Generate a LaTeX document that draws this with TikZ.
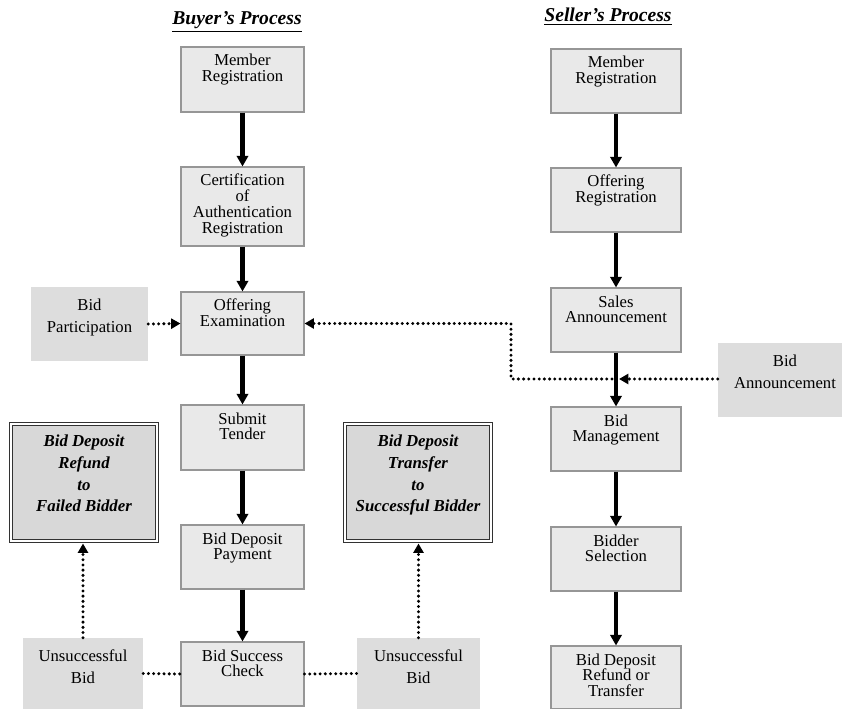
\documentclass[tikz,border=0pt]{standalone}
\usepackage{fontspec}
\setmainfont{Liberation Serif}
\usetikzlibrary{arrows.meta}
\definecolor{mainfill}{RGB}{233,233,233}
\definecolor{mainline}{RGB}{150,150,150}
\definecolor{sidefill}{RGB}{221,221,221}
\definecolor{dblfill}{RGB}{216,216,216}
\definecolor{dblline}{RGB}{50,50,50}
\newcommand\boxtxt[4]{\parbox[c][#2][t]{#1}{\centering\rule{0pt}{#3}#4\par}}
\begin{document}
\begin{tikzpicture}[x=0.75pt,y=-0.75pt,
  mainbox/.style={draw=mainline, fill=mainfill, line width=0.8pt, inner sep=0pt,
    font=\fontsize{12.5}{11.8}\selectfont},
  sidebox/.style={fill=sidefill, inner sep=0pt, font=\fontsize{12.5}{16.5}\selectfont},
  dblbox/.style={draw=dblline, line width=0.75pt, double=white, double distance=1.8pt,
    fill=dblfill, inner sep=0pt, font=\fontsize{12.6}{16.3}\selectfont\bfseries\itshape},
  flow/.style={line width=3.5pt, -{Triangle[width=8.5pt,length=8pt]}},
  dotline/.style={line width=2.5pt, line cap=round, dash pattern=on 0pt off 3.9pt},
  dotarrow/.style={dotline, -{Triangle[width=7.5pt,length=7pt]}},
  title/.style={font=\fontsize{14.7}{17}\selectfont\bfseries\itshape, anchor=base, inner sep=0pt}
]
\useasboundingbox (0,0) rectangle (842,709);
% titles
\node[title] (tb) at (237,25) {\underline{Buyer’s Process}};
\node[title] (ts) at (608,22) {\underline{Seller’s Process}};
% buyer column
\node[mainbox] (bmr) at (242.5,79.5) {\boxtxt{92.25pt}{48.75pt}{14.25pt}{Member\\Registration}};
\node[mainbox] (bca) at (242.5,206.5) {\boxtxt{92.25pt}{59.25pt}{14.25pt}{Certification\\of\\Authentication\\Registration}};
\node[mainbox] (boe) at (242.5,323.5) {\boxtxt{92.25pt}{47.25pt}{14.25pt}{Offering\\Examination}};
\node[mainbox] (bst) at (242.5,437.5) {\boxtxt{92.25pt}{48.75pt}{14.25pt}{Submit\\Tender}};
\node[mainbox] (bdp) at (242.5,557) {\boxtxt{92.25pt}{48pt}{14.25pt}{Bid Deposit\\Payment}};
\node[mainbox] (bsc) at (242.5,674) {\boxtxt{92.25pt}{48pt}{14.25pt}{Bid Success\\Check}};
% seller column
\node[mainbox] (smr) at (616,81) {\boxtxt{97.5pt}{48pt}{14.25pt}{Member\\Registration}};
\node[mainbox] (sor) at (616,200) {\boxtxt{97.5pt}{48pt}{14.25pt}{Offering\\Registration}};
\node[mainbox] (ssa) at (616,320) {\boxtxt{97.5pt}{48pt}{14.25pt}{Sales\\Announcement}};
\node[mainbox] (sbm) at (616,439) {\boxtxt{97.5pt}{48pt}{14.25pt}{Bid\\Management}};
\node[mainbox] (sbs) at (616,559) {\boxtxt{97.5pt}{48pt}{14.25pt}{Bidder\\Selection}};
\node[mainbox] (sbr) at (616,677.5) {\boxtxt{97.5pt}{47.25pt}{14.25pt}{Bid Deposit\\Refund or\\Transfer}};
% side boxes
\node[sidebox] (bpa) at (89.5,324) {\boxtxt{87.75pt}{55.5pt}{17.6pt}{Bid\\Participation}};
\node[sidebox] (ban) at (785,380) {\boxtxt{100.5pt}{55.5pt}{17.6pt}{Bid\\Announcement}};
\node[sidebox] (ubl) at (83,673.5) {\boxtxt{90pt}{53.25pt}{17.6pt}{Unsuccessful\\Bid}};
\node[sidebox] (ubr) at (418.5,673.5) {\boxtxt{92.25pt}{53.25pt}{17.6pt}{Unsuccessful\\Bid}};
% double boxes
\node[dblbox] (dbl) at (84,482.5) {\boxtxt{109.5pt}{87.75pt}{17pt}{Bid Deposit\\Refund\\to\\Failed Bidder}};
\node[dblbox] (dbr) at (418,482.5) {\boxtxt{109.5pt}{87.75pt}{17pt}{Bid Deposit\\Transfer\\to\\Successful Bidder}};
% solid flows
\draw[flow] (bmr) -- (bca);
\draw[flow] (bca) -- (boe);
\draw[flow] (boe) -- (bst);
\draw[flow] (bst) -- (bdp);
\draw[flow] (bdp) -- (bsc);
\draw[flow] (smr) -- (sor);
\draw[flow] (sor) -- (ssa);
\draw[flow] (ssa) -- (sbm);
\draw[flow] (sbm) -- (sbs);
\draw[flow] (sbs) -- (sbr);
% dotted connectors
\draw[dotarrow] (bpa.east) -- (boe.west);
\coordinate (J) at (619,379);
\coordinate (K) at (612,379);
\coordinate (L) at (511,379);
\draw[dotarrow] (ban.west |- J) -- (J);
\draw[dotarrow] (K) -- (L) |- (boe.east);
\draw[dotline] (ubl.east) -- (bsc.west);
\draw[dotline] (bsc.east) -- (ubr.west);
\draw[dotarrow, shorten >=1.5pt] (ubl.north) -- (ubl.north |- dbl.south);
\draw[dotarrow, shorten >=1.5pt] (ubr.north) -- (ubr.north |- dbr.south);
\end{tikzpicture}
\end{document}
